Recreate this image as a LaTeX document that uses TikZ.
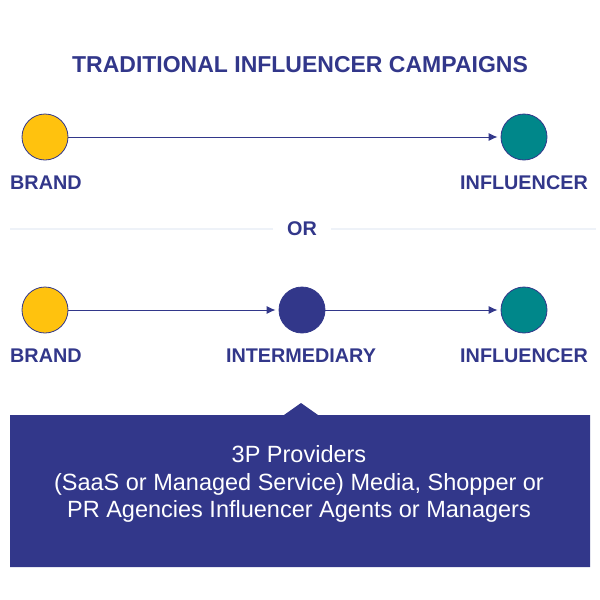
\documentclass[tikz,border=0pt]{standalone}
\usepackage{fontspec}
\setmainfont{Liberation Sans}
\usetikzlibrary{positioning}
\usetikzlibrary{calc}
\usetikzlibrary{arrows.meta}
\definecolor{navy}{HTML}{32378A}
\definecolor{gold}{HTML}{FFC20E}
\definecolor{teal}{HTML}{00878A}
\definecolor{rule}{HTML}{EEF2F8}
\begin{document}
\begin{tikzpicture}[
x=1pt, y=-1pt,
dotnode/.style={circle, draw=navy, line width=0.8pt, minimum size=46pt, inner sep=0pt},
labelnode/.style={text=navy, font=\bfseries\fontsize{19.8}{22}\selectfont, inner sep=0pt},
flow/.style={navy, line width=1pt, -{Latex[length=9pt, width=8pt]}, shorten >=3pt}
]
\useasboundingbox (0,0) rectangle (600,600);

%Title
\node[text=navy, font=\bfseries\fontsize{23}{26}\selectfont] (title) at (300,65) {TRADITIONAL INFLUENCER CAMPAIGNS};

%Nodes
\node[dotnode, fill=gold] (brand1) at (45,137) {};
\node[dotnode, fill=teal] (infl1) at (524,137) {};
\node[labelnode, anchor=west] (brandlabel1) at (10,183) {BRAND};
\node[labelnode, anchor=east] (infllabel1) at (588,183) {INFLUENCER};

\node[labelnode] (or) at (302,229) {OR};
\coordinate (rule1) at (10,229);
\coordinate (rule2) at (596,229);

\node[dotnode, fill=gold] (brand2) at (45,310) {};
\node[dotnode, fill=navy] (inter) at (302,310) {};
\node[dotnode, fill=teal] (infl2) at (524,310) {};
\node[labelnode, anchor=west] (brandlabel2) at (10,356) {BRAND};
\node[labelnode] (interlabel) at (301,356) {INTERMEDIARY};
\node[labelnode, anchor=east] (infllabel2) at (588,356) {INFLUENCER};

%Lines
\draw[flow] (brand1) -- (infl1);
\draw[flow] (brand2) -- (inter);
\draw[flow] (inter) -- (infl2);
\draw[rule, line width=1.2pt] (rule1) -- ([xshift=-14pt]or.west);
\draw[rule, line width=1.2pt] ([xshift=14pt]or.east) -- (rule2);

%Box
\fill[navy] (10,415) -- (284,415) -- (301,403) -- (318,415) -- (590,415) -- (590,567) -- (10,567) -- cycle;
\node[text=white, align=center, font=\fontsize{23.5}{27.5}\selectfont] (providers) at (299,484)
{3P Providers\\(SaaS or Managed Service) Media, Shopper or\\PR Agencies Influencer Agents or Managers};

\end{tikzpicture}
\end{document}
